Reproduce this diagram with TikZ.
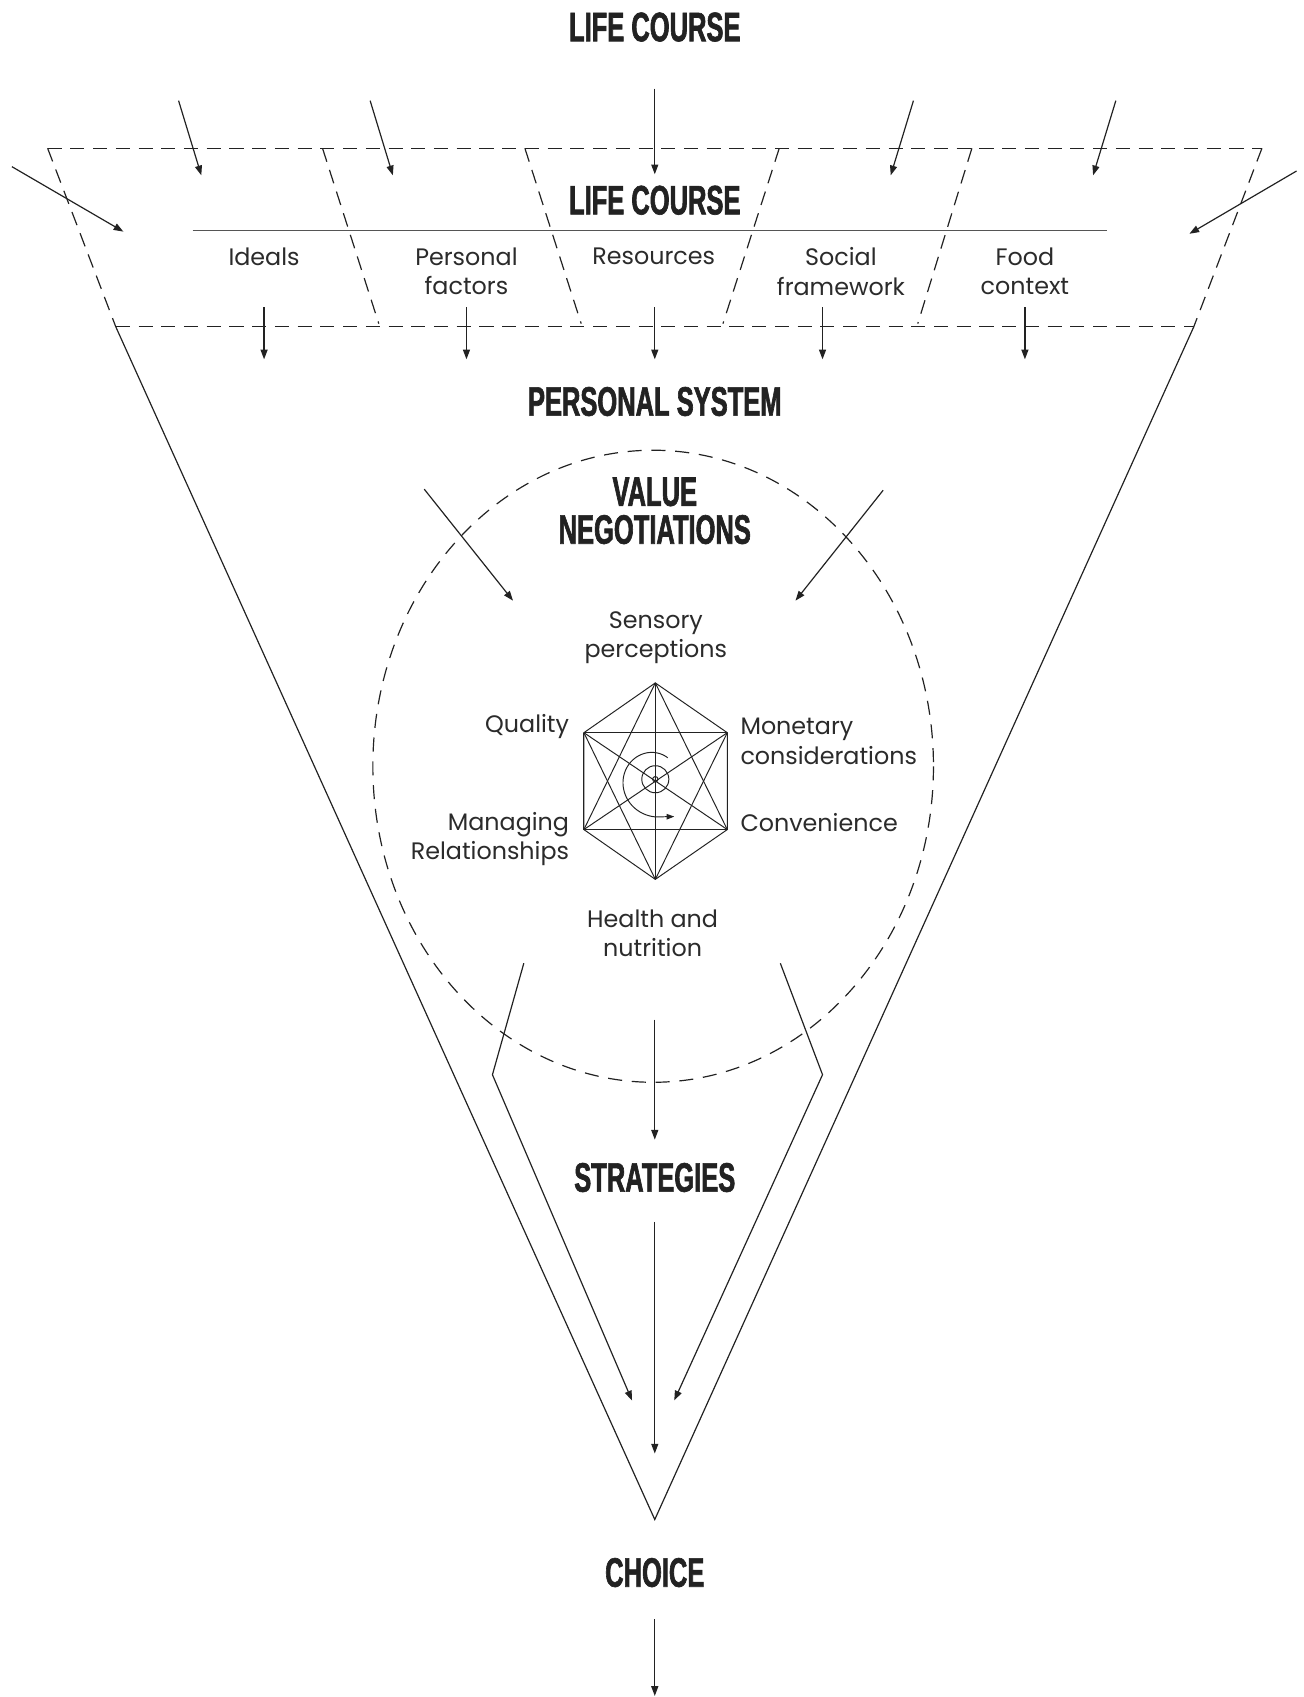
\documentclass[tikz,border=0pt]{standalone}
\usepackage{fontspec}
\setmainfont{Poppins}
\newfontfamily\headfont[FakeStretch=0.62,FakeBold=1.5]{Liberation Sans}
\usetikzlibrary{arrows.meta}
\definecolor{ink}{HTML}{222222}
\definecolor{txt}{HTML}{2B2B2B}
\definecolor{rule}{HTML}{555555}
\begin{document}
\begin{tikzpicture}[x=1pt,y=-1pt,color=ink,
  ln/.style={draw=ink,line width=1.1pt},
  dsh/.style={draw=ink,line width=1.1pt,dash pattern=on 13pt off 8pt},
  arr/.style={ln,-{Triangle[length=9pt,width=6.5pt]}},
  head/.style={font=\headfont\bfseries\fontsize{38}{35}\selectfont,text=ink,inner sep=0pt,align=center},
  lbl/.style={font=\fontsize{22}{27}\selectfont,text=txt,inner sep=0pt,align=center},
]
\useasboundingbox[fill=white] (0,0) rectangle (1204,1568);

% headings
\node[head] (t1) at (605,25) {LIFE COURSE};
\node[head] (t2) at (605,185) {LIFE COURSE};
\node[head] (ps) at (605,371) {PERSONAL SYSTEM};
\node[head] (vn) at (605,472) {VALUE\\NEGOTIATIONS};
\node[head] (st) at (605,1088) {STRATEGIES};
\node[head] (ch) at (605,1453) {CHOICE};

% frame
\coordinate (TL) at (44,137);
\coordinate (TR) at (1166,137);
\coordinate (BL) at (107,302);
\coordinate (BR) at (1103,302);
\coordinate (AP) at (605,1404);
\draw[dsh] (TL) -- (TR);
\draw[dsh] (BL) -- (BR);
\draw[dsh] (TL) -- (BL);
\draw[dsh] (TR) -- (BR);
\draw[ln] (BL) -- (AP) -- (BR);

% dividers
\coordinate (d1a) at (298,137); \coordinate (d1b) at (350,299);
\coordinate (d2a) at (485,137); \coordinate (d2b) at (537,299);
\coordinate (d3a) at (720,137); \coordinate (d3b) at (668,299);
\coordinate (d4a) at (898,137); \coordinate (d4b) at (848,299);
\draw[dsh] (d1a) -- (d1b);
\draw[dsh] (d2a) -- (d2b);
\draw[dsh] (d3a) -- (d3b);
\draw[dsh] (d4a) -- (d4b);

% rule
\coordinate (ra) at (178,213); \coordinate (rb) at (1023,213);
\draw[draw=rule,line width=1.3pt] (ra) -- (rb);

% labels
\node[lbl] (ideals) at (244,237) {Ideals};
\node[lbl] (pf) at (431,251) {Personal\\factors};
\node[lbl] (res) at (604,237) {Resources};
\node[lbl] (soc) at (777,251) {Social\\framework};
\node[lbl] (food) at (947,251) {Food\\context};

% incoming arrows
\coordinate (i1a) at (165,93);  \coordinate (i1b) at (186,162);
\coordinate (i2a) at (342,93);  \coordinate (i2b) at (363,162);
\coordinate (i3a) at (605,82);  \coordinate (i3b) at (605,161);
\coordinate (i4a) at (844,93);  \coordinate (i4b) at (823,162);
\coordinate (i5a) at (1031,93); \coordinate (i5b) at (1010,162);
\coordinate (i6a) at (11,154);  \coordinate (i6b) at (114,214);
\coordinate (i7a) at (1198,158);\coordinate (i7b) at (1099,216);
\foreach \k in {1,...,7} {\draw[arr] (i\k a) -- (i\k b);}

% outgoing arrows from factors
\foreach \n/\x in {o1/244,o2/431,o3/605,o4/760,o5/947} {
  \coordinate (\n a) at (\x,284); \coordinate (\n b) at (\x,332);
  \draw[arr] (\n a) -- (\n b);
}

% value negotiations ellipse
\coordinate (EC) at (603.5,708);
\draw[ln,dash pattern=on 13pt off 9pt] (EC) ellipse [x radius=259, y radius=292];
\coordinate (e1a) at (392,452); \coordinate (e1b) at (474,555);
\coordinate (e2a) at (816,453); \coordinate (e2b) at (735,555);
\draw[arr] (e1a) -- (e1b);
\draw[arr] (e2a) -- (e2b);

% value labels
\node[lbl] (sens) at (606,589) {Sensory\\perceptions};
\node[lbl,anchor=east,align=right] (qual) at (526,671) {Quality};
\node[lbl,anchor=west,align=left] (mon) at (684,685) {Monetary\\considerations};
\node[lbl,anchor=east,align=right] (man) at (526,775) {Managing\\Relationships};
\node[lbl,anchor=west,align=left] (conv) at (684,760) {Convenience};
\node[lbl] (health) at (603,862) {Health and\\nutrition};

% hexagon
\coordinate (H1) at (605.5,631);
\coordinate (H2) at (672,677);
\coordinate (H3) at (672,766.5);
\coordinate (H4) at (605.5,812.5);
\coordinate (H5) at (539.5,766.5);
\coordinate (H6) at (539.5,677);
\begin{scope}[line width=0.9pt]
\draw (H1) -- (H2) -- (H3) -- (H4) -- (H5) -- (H6) -- cycle;
\draw (H6) -- (H2);
\draw (H5) -- (H3);
\draw (H6) -- (H5);
\draw (H2) -- (H3);
\draw (H1) -- (H4);
\draw (H6) -- (H3);
\draw (H2) -- (H5);
\draw (H1) -- (H5);
\draw (H1) -- (H3);
\draw (H4) -- (H6);
\draw (H4) -- (H2);
\coordinate (SC) at (605.5,720);
\draw (SC) circle [radius=2.5];
\draw (SC) circle [radius=12.5];
\coordinate (sp) at (623,754.5);
\draw[-{Triangle[length=7pt,width=5pt]}] plot[domain=60:270,samples=60]
  ({605.5+(24.6+10.2*(\x-90)/180)*cos(\x)},{720-(24.6+10.2*(\x-90)/180)*sin(\x)}) -- (sp);
\end{scope}

% strategies channel
\coordinate (L1) at (484,890); \coordinate (L2) at (455,993); \coordinate (L3) at (584,1294);
\coordinate (R1) at (721,890); \coordinate (R2) at (760,993); \coordinate (R3) at (623,1294);
\draw[arr] (L1) -- (L2) -- (L3);
\draw[arr] (R1) -- (R2) -- (R3);

% central arrows
\coordinate (m1a) at (605,942);  \coordinate (m1b) at (605,1053);
\coordinate (m2a) at (605,1129); \coordinate (m2b) at (605,1343);
\coordinate (m3a) at (605,1496); \coordinate (m3b) at (605,1567);
\draw[arr] (m1a) -- (m1b);
\draw[arr] (m2a) -- (m2b);
\draw[arr] (m3a) -- (m3b);
\end{tikzpicture}
\end{document}
